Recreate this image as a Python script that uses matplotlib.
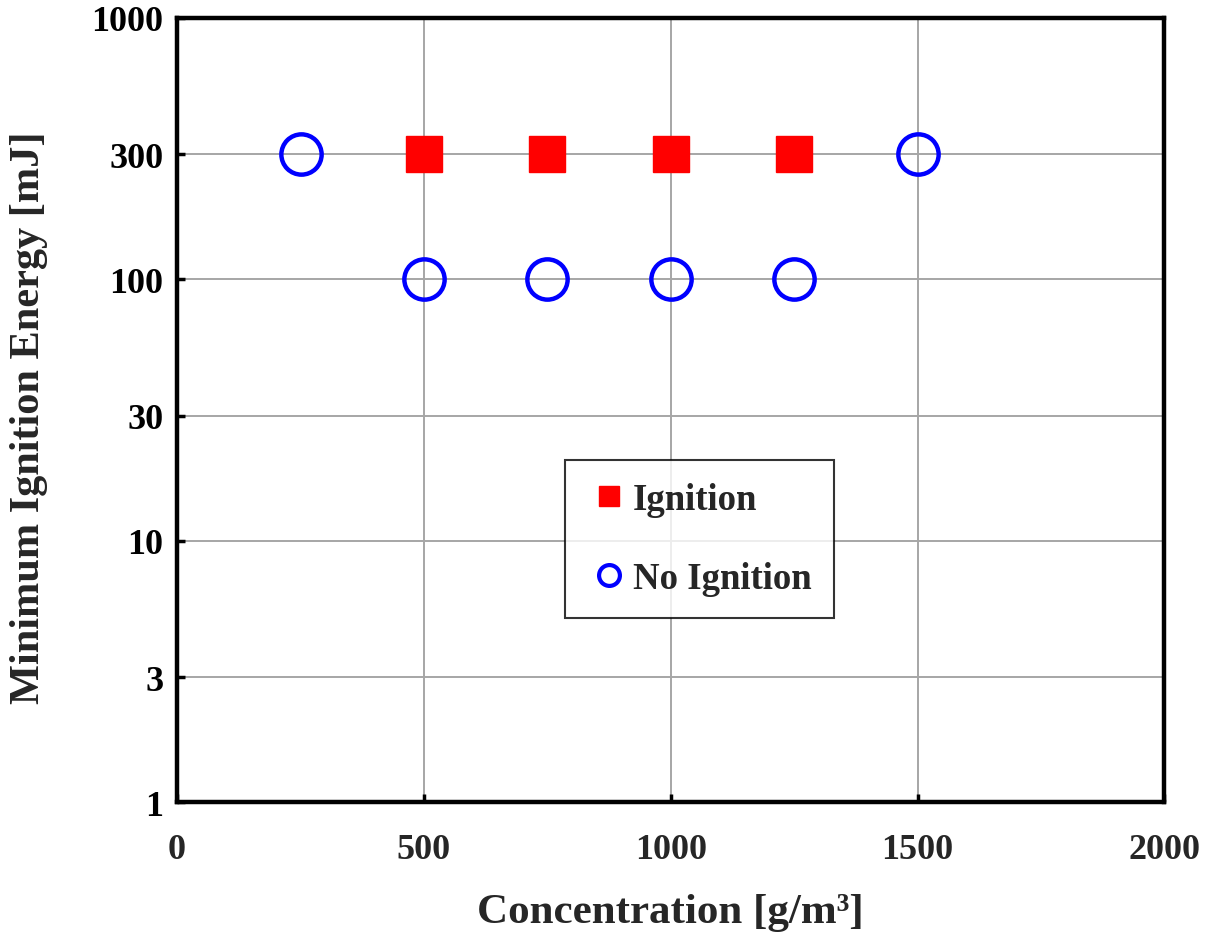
import matplotlib.pyplot as plt
from matplotlib.lines import Line2D
from matplotlib.ticker import FixedLocator, NullLocator

# MIE test results: energy level per dust concentration
ign_conc = [500, 750, 1000, 1250]
ign_energy = [300, 300, 300, 300]
noign_conc = [250, 1500, 500, 750, 1000, 1250]
noign_energy = [300, 300, 100, 100, 100, 100]

y_ticks = [1, 3, 10, 30, 100, 300, 1000]
x_ticks = [0, 500, 1000, 1500, 2000]

plt.rcParams["font.family"] = ["Liberation Serif", "DejaVu Serif"]
plt.rcParams["font.weight"] = "bold"

fig = plt.figure(figsize=(12.13, 9.37), dpi=100)
ax = fig.add_axes([0.146, 0.143, 0.814, 0.837])

ax.plot(ign_conc, ign_energy, "s", color="#ff0000", ms=26, mec="#ff0000", zorder=3)
ax.plot(noign_conc, noign_energy, "o", mfc="none", mec="#0000ff", ms=29, mew=3.2, zorder=3)

ax.set_yscale("log")
ax.set_xlim(0, 2000)
ax.set_ylim(1, 1000)
ax.xaxis.set_major_locator(FixedLocator(x_ticks))
ax.yaxis.set_major_locator(FixedLocator(y_ticks))
ax.yaxis.set_minor_locator(NullLocator())
ax.set_yticklabels([str(v) for v in y_ticks])
ax.grid(True, color="#a6a6a6", linewidth=1.4)
ax.set_axisbelow(True)

for sp in ax.spines.values():
    sp.set_linewidth(3.2)
    sp.set_color("black")

ax.tick_params(axis="both", direction="in", length=6, width=2.5, labelsize=26, colors="black")
ax.tick_params(axis="x", pad=22, labelcolor="#262626")
ax.tick_params(axis="y", pad=10)

ax.set_xlabel("Concentration [g/m³]", fontsize=31, fontweight="bold", color="#262626", labelpad=20)
ax.set_ylabel("Minimum Ignition Energy [mJ]", fontsize=30.5, fontweight="bold", color="#262626", labelpad=31)
ax.yaxis.label.set_y(0.491)

handles = [
    Line2D([], [], ls="none", marker="s", color="#ff0000", ms=15),
    Line2D([], [], ls="none", marker="o", mfc="none", mec="#0000ff", ms=15, mew=3),
]
leg = ax.legend(handles, ["Ignition", "No Ignition"], loc="upper left",
                bbox_to_anchor=(0.393, 0.436), fontsize=26.5, frameon=True, fancybox=False,
                borderpad=0.6, labelspacing=1.2, handlelength=1.2, handletextpad=0.05,
                borderaxespad=0)
leg.get_frame().set_edgecolor("black")
leg.get_frame().set_linewidth(1.5)
for t in leg.get_texts():
    t.set_color("#262626")

fig.savefig("out.png", dpi=100)
